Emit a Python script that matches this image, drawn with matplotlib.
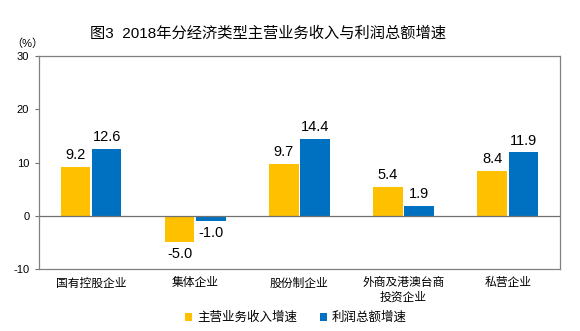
import matplotlib
matplotlib.use('Agg')
import matplotlib.pyplot as plt
import numpy as np

plt.rcParams['font.family'] = ['Liberation Sans', 'Noto Sans CJK SC', 'DejaVu Sans']

# 数据
categories = ["国有控股企业", "集体企业", "股份制企业", "外商及港澳台商\n投资企业", "私营企业"]
revenue_growth = [9.2, -5.0, 9.7, 5.4, 8.4]
profit_growth = [12.6, -1.0, 14.4, 1.9, 11.9]
series_names = ["主营业务收入增速", "利润总额增速"]
yticks = [-10, 0, 10, 20, 30]

YELLOW = "#FFC000"
BLUE = "#0070C0"

fig = plt.figure(figsize=(5.8, 3.31), dpi=100)
ax = fig.add_axes([0.0672, 0.187, 0.898, 0.644])

x = np.arange(len(categories))
w = 0.283
gap = 0.008
b1 = ax.bar(x - w / 2 - gap, revenue_growth, w, color=YELLOW, label=series_names[0])
b2 = ax.bar(x + w / 2 + gap, profit_growth, w, color=BLUE, label=series_names[1])

# 数值标签
for bars, vals in ((b1, revenue_growth), (b2, profit_growth)):
    for rect, v in zip(bars, vals):
        cx = rect.get_x() + rect.get_width() / 2
        if v >= 0:
            ax.text(cx, v + 0.9, f"{v:.1f}", ha='center', va='bottom', fontsize=10.5)
        else:
            ax.text(cx, v - 0.9, f"{v:.1f}", ha='center', va='top', fontsize=10.5)

ax.axhline(0, color='#707070', linewidth=0.9)
ax.set_xlim(-0.5, len(categories) - 0.5)
ax.set_ylim(-10, 30)
ax.set_yticks(yticks)
ax.set_yticklabels([str(t) for t in yticks], fontsize=8)
ax.set_xticks(x)
ax.set_xticklabels(categories, fontsize=8.5, linespacing=1.25, va='top')
ax.tick_params(axis='x', length=0, pad=6)
ax.tick_params(axis='y', length=3, width=0.8, color='#707070', pad=4)
for s in ax.spines.values():
    s.set_color('#808080')
    s.set_linewidth(0.9)

fig.text(0.02, 0.867, "（%）", fontsize=8, ha='left', va='center')
fig.text(0.462, 0.9, "图3  2018年分经济类型主营业务收入与利润总额增速",
         fontsize=11, ha='center', va='center')

fig.legend(handles=[b1, b2], labels=series_names, loc='center',
           bbox_to_anchor=(0.51, 0.04), ncol=2, frameon=False, fontsize=9,
           handlelength=0.6, handleheight=0.6, columnspacing=1.8, handletextpad=0.4)

fig.savefig("out.png", dpi=100)
